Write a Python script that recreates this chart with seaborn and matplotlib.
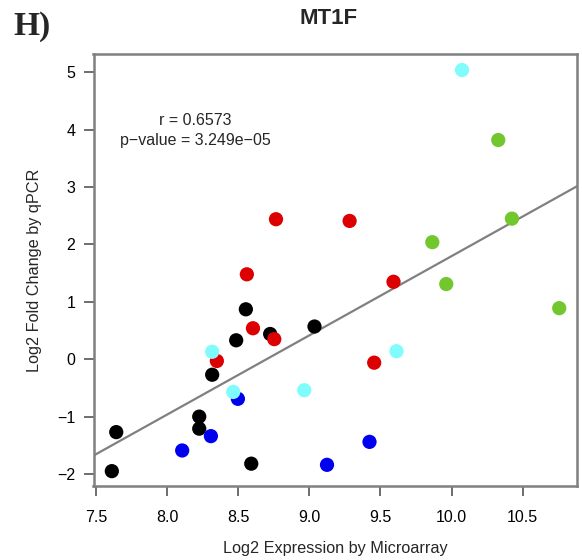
import numpy as np
import pandas as pd
import matplotlib
matplotlib.use("Agg")
import matplotlib.pyplot as plt
import seaborn as sns

# Log2 expression (microarray) vs log2 fold change (qPCR), per sample group
black_x = [8.553, 8.724, 8.485, 9.036, 8.316, 8.225, 8.225, 7.641, 7.610, 8.591]
black_y = [0.87, 0.44, 0.33, 0.57, -0.27, -1.00, -1.21, -1.27, -1.95, -1.82]
blue_x = [8.497, 8.307, 8.105, 9.423, 9.124]
blue_y = [-0.69, -1.34, -1.59, -1.44, -1.84]
red_x = [9.283, 8.765, 8.560, 9.592, 8.603, 8.753, 8.349, 9.456]
red_y = [2.41, 2.44, 1.48, 1.35, 0.54, 0.35, -0.03, -0.06]
green_x = [10.329, 10.425, 9.865, 9.963, 10.758]
green_y = [3.82, 2.45, 2.04, 1.31, 0.89]
cyan_x = [10.074, 8.316, 8.464, 8.964, 9.613]
cyan_y = [5.04, 0.13, -0.57, -0.54, 0.14]

groups = ["black", "blue", "red", "green", "cyan"]
palette = {"black": "#000000", "blue": "#0000F0", "red": "#DD0000",
           "green": "#72C72E", "cyan": "#80FCFC"}

r_text = "r = 0.6573"
p_text = "p\u2212value = 3.249e\u221205"

xs = [black_x, blue_x, red_x, green_x, cyan_x]
ys = [black_y, blue_y, red_y, green_y, cyan_y]
df = pd.concat(
    [pd.DataFrame({"x": x, "y": y, "group": g}) for g, x, y in zip(groups, xs, ys)],
    ignore_index=True,
)

sns.set_style("white")
plt.rcParams["font.family"] = ["Liberation Sans", "DejaVu Sans"]

fig = plt.figure(figsize=(5.82, 5.60), dpi=100)
ax = fig.add_axes([93.5 / 582, 1 - 486 / 560, (577 - 93.5) / 582, (486 - 54) / 560])

sns.scatterplot(data=df, x="x", y="y", hue="group", palette=palette,
                hue_order=groups, s=105, linewidth=0, legend=False, ax=ax, zorder=3)

# least-squares fit across the full plotting range
slope, intercept = np.polyfit(df["x"], df["y"], 1)
ax.axline((0, intercept), slope=slope, color="#808080", lw=1.6, zorder=2)

ax.set_xlim(7.481, 10.883)
ax.set_ylim(-2.209, 5.319)
ax.set_xticks([7.5, 8.0, 8.5, 9.0, 9.5, 10.0, 10.5])
ax.set_xticklabels(["7.5", "8.0", "8.5", "9.0", "9.5", "10.0", "10.5"])
ax.set_yticks([-2, -1, 0, 1, 2, 3, 4, 5])
ax.set_yticklabels(["\u22122", "\u22121", "0", "1", "2", "3", "4", "5"])
ax.tick_params(axis="x", pad=10)
ax.tick_params(axis="y", pad=6)
ax.tick_params(axis="both", direction="out", length=7, width=1.2, color="#555555",
               labelsize=11.5, labelcolor="black", bottom=True, left=True)

for sp in ax.spines.values():
    sp.set_color("#808080")
    sp.set_linewidth(1.8)

ax.set_xlabel("Log2 Expression by Microarray", fontsize=11.7, labelpad=12)
ax.set_ylabel("Log2 Fold Change by qPCR", fontsize=11.7, labelpad=11)

ax.text(0.21, 0.845, r_text, transform=ax.transAxes, ha="center", va="center", fontsize=11.5)
ax.text(0.21, 0.799, p_text, transform=ax.transAxes, ha="center", va="center", fontsize=11.5)

fig.text(329 / 582, 1 - 18 / 560, "MT1F", ha="center", va="center",
         fontsize=16, fontweight="bold")
fig.text(13 / 582, 1 - 26 / 560, "H)", ha="left", va="center",
         fontsize=24, fontweight="bold", family=["Liberation Serif", "DejaVu Serif"])

fig.savefig("out.png", dpi=100)
